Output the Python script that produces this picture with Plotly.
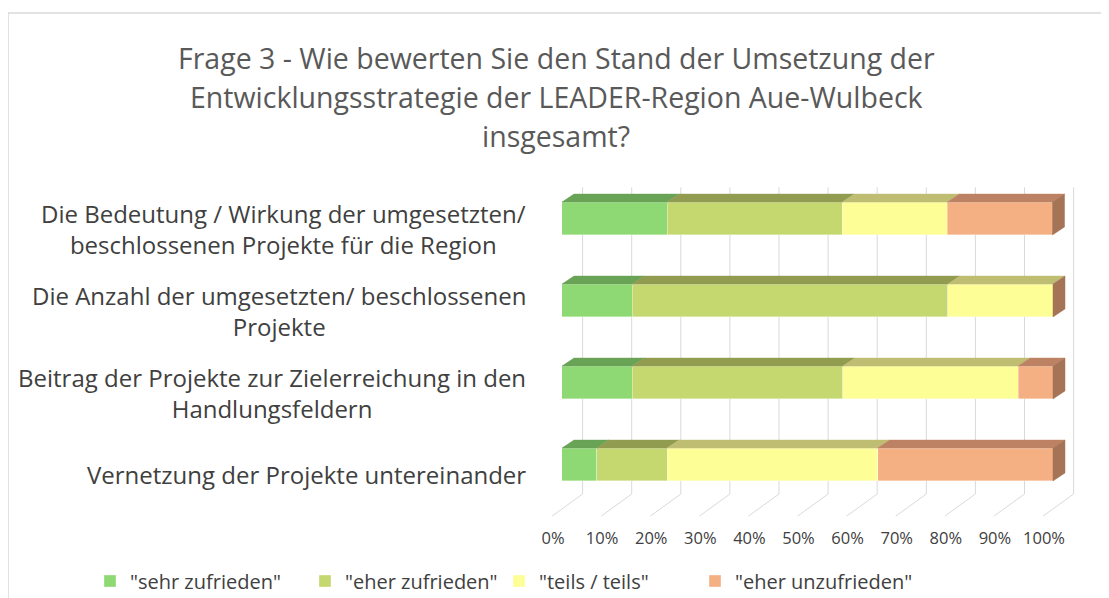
import plotly.graph_objects as go

categories = [
    "Die Bedeutung / Wirkung der umgesetzten/<br>beschlossenen Projekte für die Region",
    "Die Anzahl der umgesetzten/ beschlossenen<br>Projekte",
    "Beitrag der Projekte zur Zielerreichung in den<br>Handlungsfeldern",
    "Vernetzung der Projekte untereinander",
]
series_names = ['"sehr zufrieden"', '"eher zufrieden"', '"teils / teils"', '"eher unzufrieden"']
sehr_zufrieden = [21.4, 14.3, 14.3, 7.1]
eher_zufrieden = [35.7, 64.3, 42.9, 14.3]
teils_teils = [21.4, 21.4, 35.7, 42.9]
eher_unzufrieden = [21.4, 0.0, 7.1, 35.7]
tick_vals = [0, 10, 20, 30, 40, 50, 60, 70, 80, 90, 100]
tick_labels = ["0%", "10%", "20%", "30%", "40%", "50%", "60%", "70%", "80%", "90%", "100%"]
title_lines = [
    "Frage 3 - Wie bewerten Sie den Stand der Umsetzung der",
    "Entwicklungsstrategie der LEADER-Region Aue-Wulbeck",
    "insgesamt?",
]

series_values = [sehr_zufrieden, eher_zufrieden, teils_teils, eher_unzufrieden]
front_colors = ["#8ED973", "#C5D86F", "#FEFE96", "#F4AF82"]
top_colors = ["#68A356", "#919C50", "#BFBD72", "#BD8263"]
side_color = "#A57457"

W, H = 1109, 598
OX, OY = 8, 8          # page offset of the figure inside the window
FONT = "Open Sans"
TXT = "#404040"


def fx(px):
    return (px - OX) / W


def fy(py):
    return (H - (py - OY)) / H


ypos = [3, 2, 1, 0]
bar_w = 0.40
px_x = 4.91   # px per % unit
px_y = 82.0   # px per category unit
dx = 12 / px_x
dy = 8 / px_y

x_range = [-4, 106]
x_dom0 = fx(562 - 4 * px_x)
x_dom1 = x_dom0 + (110 * px_x) / W
y_lo = -0.75
y_hi = 3.9
bottom_px = 464.5 - y_lo * px_y
top_px = bottom_px - (y_hi - y_lo) * px_y
y_dom = [fy(bottom_px), fy(top_px)]

legend_ids = ["legend", "legend2", "legend3", "legend4"]
legend_square_x = [104, 319, 513, 709]

fig = go.Figure()

for name, vals, col, lid in zip(series_names, series_values, front_colors, legend_ids):
    fig.add_trace(go.Bar(
        name=name, x=vals, y=ypos, orientation="h", width=bar_w,
        marker=dict(color=col, line=dict(width=0.6, color="rgba(255,255,255,0.6)")),
        hoverinfo="x+name", legend=lid,
    ))

for ci, y in enumerate(ypos):
    base = 0.0
    yt = y + bar_w / 2
    yb = y - bar_w / 2
    for si, vals in enumerate(series_values):
        v = vals[ci]
        if v > 0:
            x0, x1 = base, base + v
            fig.add_trace(go.Scatter(
                x=[x0, x1, x1 + dx, x0 + dx, x0],
                y=[yt, yt, yt + dy, yt + dy, yt],
                fill="toself", fillcolor=top_colors[si], mode="lines",
                line=dict(width=0.5, color=top_colors[si]),
                showlegend=False, hoverinfo="skip",
            ))
        base += v
    fig.add_trace(go.Scatter(
        x=[base, base + dx, base + dx, base, base],
        y=[yb, yb + dy, yt + dy, yt, yb],
        fill="toself", fillcolor=side_color, mode="lines",
        line=dict(width=0.5, color=side_color),
        showlegend=False, hoverinfo="skip",
    ))

back_off = 20.6 / px_x
front_off = -10 / px_x
y_back_bottom = -0.36
y_front = -0.63
y_top = 3.38
shapes = []
for t in tick_vals:
    shapes.append(dict(type="line", xref="x", yref="y", x0=t + back_off, x1=t + back_off,
                       y0=y_back_bottom, y1=y_top, line=dict(color="#D9D9D9", width=1), layer="below"))
    shapes.append(dict(type="line", xref="x", yref="y", x0=t + front_off, x1=t + back_off,
                       y0=y_front, y1=y_back_bottom, line=dict(color="#D9D9D9", width=1), layer="below"))
shapes.append(dict(type="line", xref="paper", yref="paper", x0=fx(8), x1=1.0,
                   y0=fy(13), y1=fy(13), line=dict(color="#D9D9D9", width=1.5)))
shapes.append(dict(type="line", xref="paper", yref="paper", x0=fx(8), x1=fx(8),
                   y0=0, y1=fy(13), line=dict(color="#D9D9D9", width=1.5)))

annotations = []
for line, yc in zip(title_lines, [58, 97, 136]):
    annotations.append(dict(text=line, x=fx(556), y=fy(yc), xref="paper", yref="paper",
                            showarrow=False, xanchor="center", yanchor="middle",
                            font=dict(family=FONT, size=28.5, color="#595959")))
for cat, y in zip(categories, ypos):
    annotations.append(dict(text=cat, x=fx(528), y=y, xref="paper", yref="y", yshift=-10,
                            showarrow=False, xanchor="right", yanchor="middle", align="center",
                            font=dict(family=FONT, size=24, color=TXT)))

legend_layout = {}
for lid, sx in zip(legend_ids, legend_square_x):
    legend_layout[lid] = dict(orientation="h", x=fx(sx - 14), y=fy(581), xanchor="left",
                              yanchor="middle", bgcolor="rgba(0,0,0,0)",
                              font=dict(family=FONT, size=20, color=TXT))

fig.update_layout(
    width=W, height=H, barmode="stack",
    margin=dict(l=0, r=0, t=0, b=0),
    paper_bgcolor="white", plot_bgcolor="rgba(0,0,0,0)",
    shapes=shapes, annotations=annotations,
    xaxis=dict(domain=[x_dom0, x_dom1], range=x_range, tickvals=tick_vals, ticktext=tick_labels,
               ticklabelshift=-9, showgrid=False, zeroline=False, showline=False,
               tickfont=dict(family=FONT, size=16.5, color=TXT), fixedrange=True),
    yaxis=dict(domain=y_dom, range=[y_lo, y_hi], showticklabels=False, showgrid=False,
               zeroline=False, showline=False, fixedrange=True),
    showlegend=True,
    **legend_layout,
)

fig.write_html("out.html")
